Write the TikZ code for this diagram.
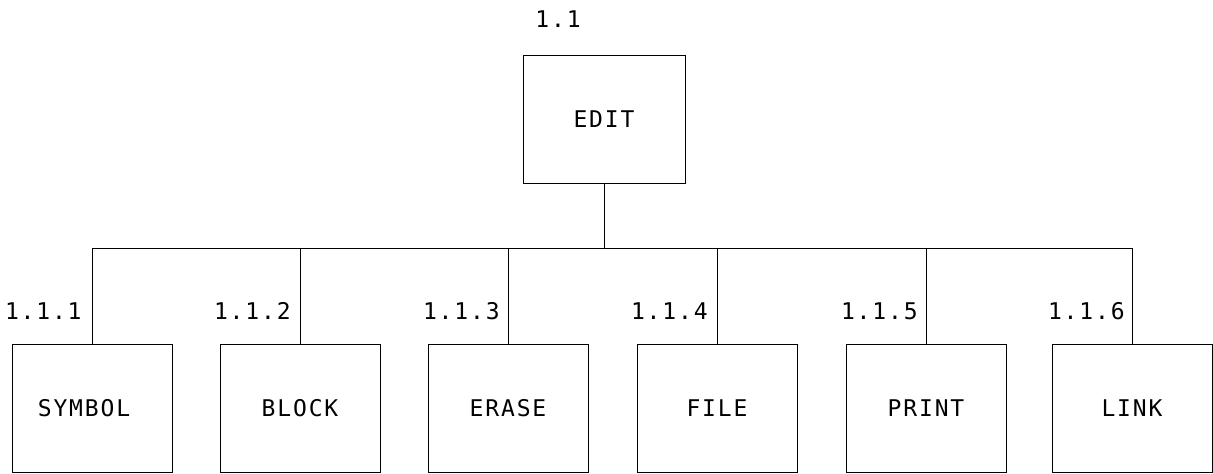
\documentclass[tikz,border=0pt]{standalone}
\usepackage{fontspec}
\newfontfamily\plotfont[LetterSpace=8]{DejaVu Sans Mono}
\begin{document}
\begin{tikzpicture}[x=0.5pt,y=0.5pt,
  every node/.style={font=\plotfont\fontsize{11.5}{13}\selectfont},
  box/.style={draw,line width=0.45pt,minimum width=80pt,minimum height=64pt,inner sep=0pt},
  topbox/.style={box,minimum width=81pt},
  num/.style={anchor=east,inner sep=0pt},
  wire/.style={line width=0.45pt}]
\useasboundingbox (0,0) rectangle (1213,474);
\node[topbox] (edit) at (604,355) {EDIT};
\node[inner sep=0pt] (n0) at (558,455) {1.1};
\node[box] (c1) at (92,66) {SYMBOL\rule{8pt}{0pt}};
\node[box] (c2) at (300,66) {BLOCK};
\node[box] (c3) at (508,66) {ERASE};
\node[box] (c4) at (717,66) {FILE};
\node[box] (c5) at (926,66) {PRINT};
\node[box] (c6) at (1132,66) {LINK};
\coordinate (bus) at (0,226);
\node[num] (n1) at (82,163) {1.1.1};
\node[num] (n2) at (291,163) {1.1.2};
\node[num] (n3) at (500,163) {1.1.3};
\node[num] (n4) at (708,163) {1.1.4};
\node[num] (n5) at (918,163) {1.1.5};
\node[num] (n6) at (1125,163) {1.1.6};
\draw[wire] (edit.south) -- (edit.south |- bus);
\draw[wire] (c1.north) -- (c1.north |- bus) -- (c6.north |- bus) -- (c6.north);
\foreach \c in {c2,c3,c4,c5}
  \draw[wire] (\c.north) -- (\c.north |- bus);
\end{tikzpicture}
\end{document}
